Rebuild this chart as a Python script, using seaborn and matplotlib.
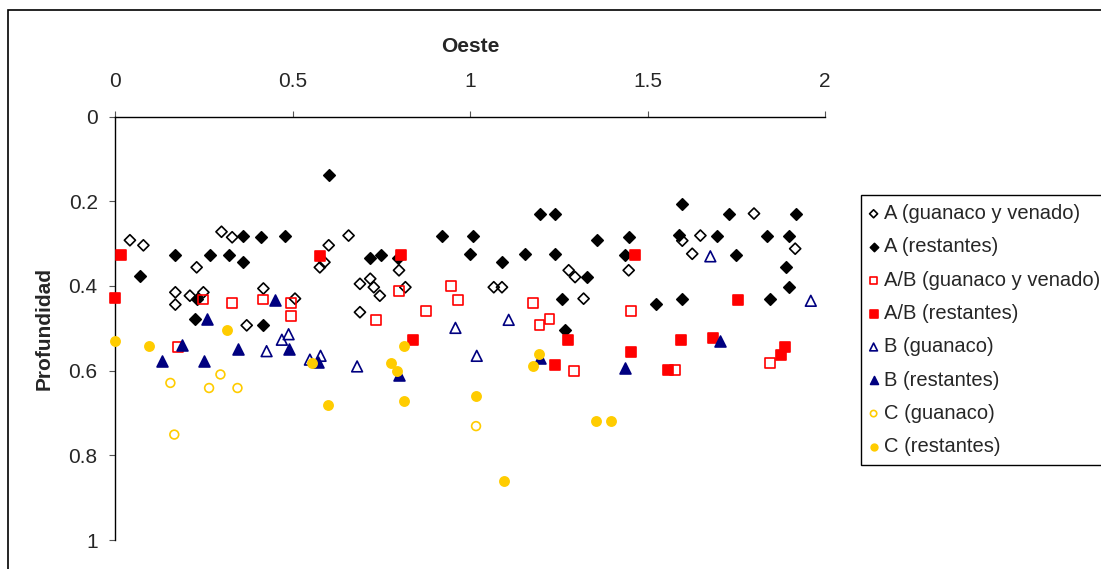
import numpy as np
import pandas as pd
import matplotlib
matplotlib.use("Agg")
import matplotlib.pyplot as plt
from matplotlib.patches import Rectangle
from matplotlib.ticker import FuncFormatter
import seaborn as sns

# Series (x = Oeste, y = Profundidad)
a_gv_x = [0.042, 0.08, 0.23, 0.30, 0.33, 0.17, 0.17, 0.211, 0.249, 0.418, 0.507, 0.371,
          0.602, 0.658, 0.59, 0.577, 0.80, 0.719, 0.69, 0.729, 0.746, 0.818, 0.69,
          1.067, 1.09, 1.278, 1.296, 1.447, 1.32, 1.80, 1.598, 1.649, 1.626, 1.916]
a_gv_y = [0.292, 0.304, 0.356, 0.272, 0.285, 0.415, 0.444, 0.423, 0.415, 0.406, 0.43, 0.493,
          0.304, 0.281, 0.344, 0.356, 0.363, 0.383, 0.395, 0.403, 0.423, 0.403, 0.462,
          0.403, 0.403, 0.363, 0.379, 0.363, 0.43, 0.229, 0.293, 0.281, 0.324, 0.312]

a_rest_x = [0.07, 0.17, 0.268, 0.32, 0.361, 0.36, 0.41, 0.48, 0.23, 0.226, 0.418, 0.602,
            0.718, 0.748, 0.797, 0.922, 1.009, 1.0, 1.198, 1.24, 1.09, 1.156, 1.24, 1.358,
            1.447, 1.437, 1.33, 1.259, 1.524, 1.268, 1.597, 1.729, 1.917, 1.588, 1.696,
            1.837, 1.899, 1.748, 1.889, 1.899, 1.597, 1.846]
a_rest_y = [0.376, 0.328, 0.328, 0.328, 0.344, 0.281, 0.285, 0.281, 0.43, 0.478, 0.493, 0.138,
            0.333, 0.328, 0.333, 0.281, 0.281, 0.324, 0.229, 0.229, 0.344, 0.324, 0.324, 0.292,
            0.285, 0.328, 0.379, 0.43, 0.442, 0.505, 0.206, 0.229, 0.229, 0.279, 0.281,
            0.281, 0.281, 0.328, 0.356, 0.403, 0.43, 0.43]

ab_gv_x = [0.247, 0.33, 0.416, 0.495, 0.495, 0.177, 0.801, 0.947, 0.966, 0.875, 0.735,
           1.177, 1.454, 1.224, 1.196, 1.294, 1.844, 1.577]
ab_gv_y = [0.432, 0.44, 0.432, 0.44, 0.47, 0.544, 0.412, 0.401, 0.433, 0.46, 0.48,
           0.44, 0.46, 0.478, 0.492, 0.601, 0.582, 0.598]

ab_rest_x = [0.017, 0.0, 0.577, 0.806, 0.839, 1.465, 1.275, 1.454, 1.24, 1.755, 1.595,
             1.685, 1.886, 1.877, 1.558]
ab_rest_y = [0.326, 0.428, 0.33, 0.326, 0.527, 0.326, 0.527, 0.555, 0.586, 0.433, 0.527,
             0.523, 0.543, 0.563, 0.598]

b_g_x = [0.427, 0.47, 0.489, 0.549, 0.579, 0.682, 0.959, 1.019, 1.109, 1.677, 1.96]
b_g_y = [0.554, 0.527, 0.514, 0.574, 0.565, 0.59, 0.499, 0.565, 0.48, 0.33, 0.435]

b_rest_x = [0.45, 0.258, 0.188, 0.347, 0.489, 0.131, 0.25, 0.573, 0.8, 1.198, 1.438, 1.705]
b_rest_y = [0.432, 0.478, 0.54, 0.548, 0.548, 0.578, 0.578, 0.579, 0.611, 0.569, 0.594, 0.53]

c_g_x = [0.156, 0.297, 0.265, 0.345, 0.167, 1.017]
c_g_y = [0.629, 0.609, 0.641, 0.641, 0.751, 0.731]

c_rest_x = [0.0, 0.096, 0.315, 0.556, 0.777, 0.795, 0.815, 0.599, 0.815, 1.017, 1.195,
            1.177, 1.355, 1.397, 1.096]
c_rest_y = [0.53, 0.542, 0.503, 0.581, 0.582, 0.6, 0.542, 0.68, 0.672, 0.66, 0.561,
            0.59, 0.72, 0.72, 0.861]

y_ticks = [0, 0.2, 0.4, 0.6, 0.8, 1]
x_ticks = [0, 0.5, 1, 1.5, 2]

sns.set_theme(style="white")
plt.rcParams['font.family'] = ['Liberation Sans', 'DejaVu Sans']

fig = plt.figure(figsize=(11.01, 5.69), dpi=100)
ax = fig.add_axes([115 / 1101, 1 - 540 / 569, 710 / 1101, (540 - 116.6) / 569])

# label, x, y, marker, size, facecolor, edgecolor
series = [
    ("A (guanaco y venado)", a_gv_x, a_gv_y, "D", 32, "none", "black"),
    ("A (restantes)", a_rest_x, a_rest_y, "D", 34, "black", "black"),
    ("A/B (guanaco y venado)", ab_gv_x, ab_gv_y, "s", 50, "none", "#ff0000"),
    ("A/B (restantes)", ab_rest_x, ab_rest_y, "s", 52, "#ff0000", "#ff0000"),
    ("B (guanaco)", b_g_x, b_g_y, "^", 60, "none", "#000080"),
    ("B (restantes)", b_rest_x, b_rest_y, "^", 62, "#000080", "#000080"),
    ("C (guanaco)", c_g_x, c_g_y, "o", 40, "none", "#ffcc00"),
    ("C (restantes)", c_rest_x, c_rest_y, "o", 44, "#ffcc00", "#ffcc00"),
]

for label, xs, ys, mk, size, fc, ec in series:
    sns.scatterplot(x=xs, y=ys, marker=mk, s=size, facecolor=fc, edgecolor=ec,
                    linewidth=1.2, label=label, ax=ax, clip_on=False, zorder=3)

ax.set_xlim(0, 2)
ax.set_ylim(1, 0)
ax.xaxis.tick_top()
ax.xaxis.set_label_position('top')
ax.set_xticks(x_ticks)
ax.set_yticks(y_ticks)
fmt = FuncFormatter(lambda v, p: f"{v:g}")
ax.xaxis.set_major_formatter(fmt)
ax.yaxis.set_major_formatter(fmt)

for side in ['right', 'bottom']:
    ax.spines[side].set_visible(False)
for side in ['left', 'top']:
    ax.spines[side].set_color('black')
    ax.spines[side].set_linewidth(1.0)

ax.tick_params(axis='x', which='both', top=True, bottom=False, direction='out',
               length=4.5, width=0.8, color='#555555', pad=14, labelsize=15)
ax.tick_params(axis='y', which='both', left=True, direction='out',
               length=4.5, width=0.8, color='#555555', pad=8, labelsize=15)

ax.set_xlabel('Oeste', fontsize=15, fontweight='bold', labelpad=14)
ax.set_ylabel('Profundidad', fontsize=15, fontweight='bold', labelpad=11)

leg = ax.legend(loc='upper left', bbox_to_anchor=(861 / 1101, 1 - 195 / 569),
                bbox_transform=fig.transFigure, fontsize=14.5, frameon=True,
                fancybox=False, edgecolor='black', framealpha=1, borderaxespad=0,
                borderpad=0.45, handlelength=0.35, handletextpad=0.35,
                labelspacing=0.71, markerscale=0.72, scatterpoints=1)
leg.get_frame().set_linewidth(1.0)

# outer chart border (right and bottom edges fall outside the picture)
fig.patches.append(Rectangle((8 / 1101, -0.1), 1.2, 1 - 10 / 569 + 0.1,
                             transform=fig.transFigure, fill=False,
                             edgecolor='black', linewidth=1.2, clip_on=False))

fig.savefig('out.png', dpi=100)
